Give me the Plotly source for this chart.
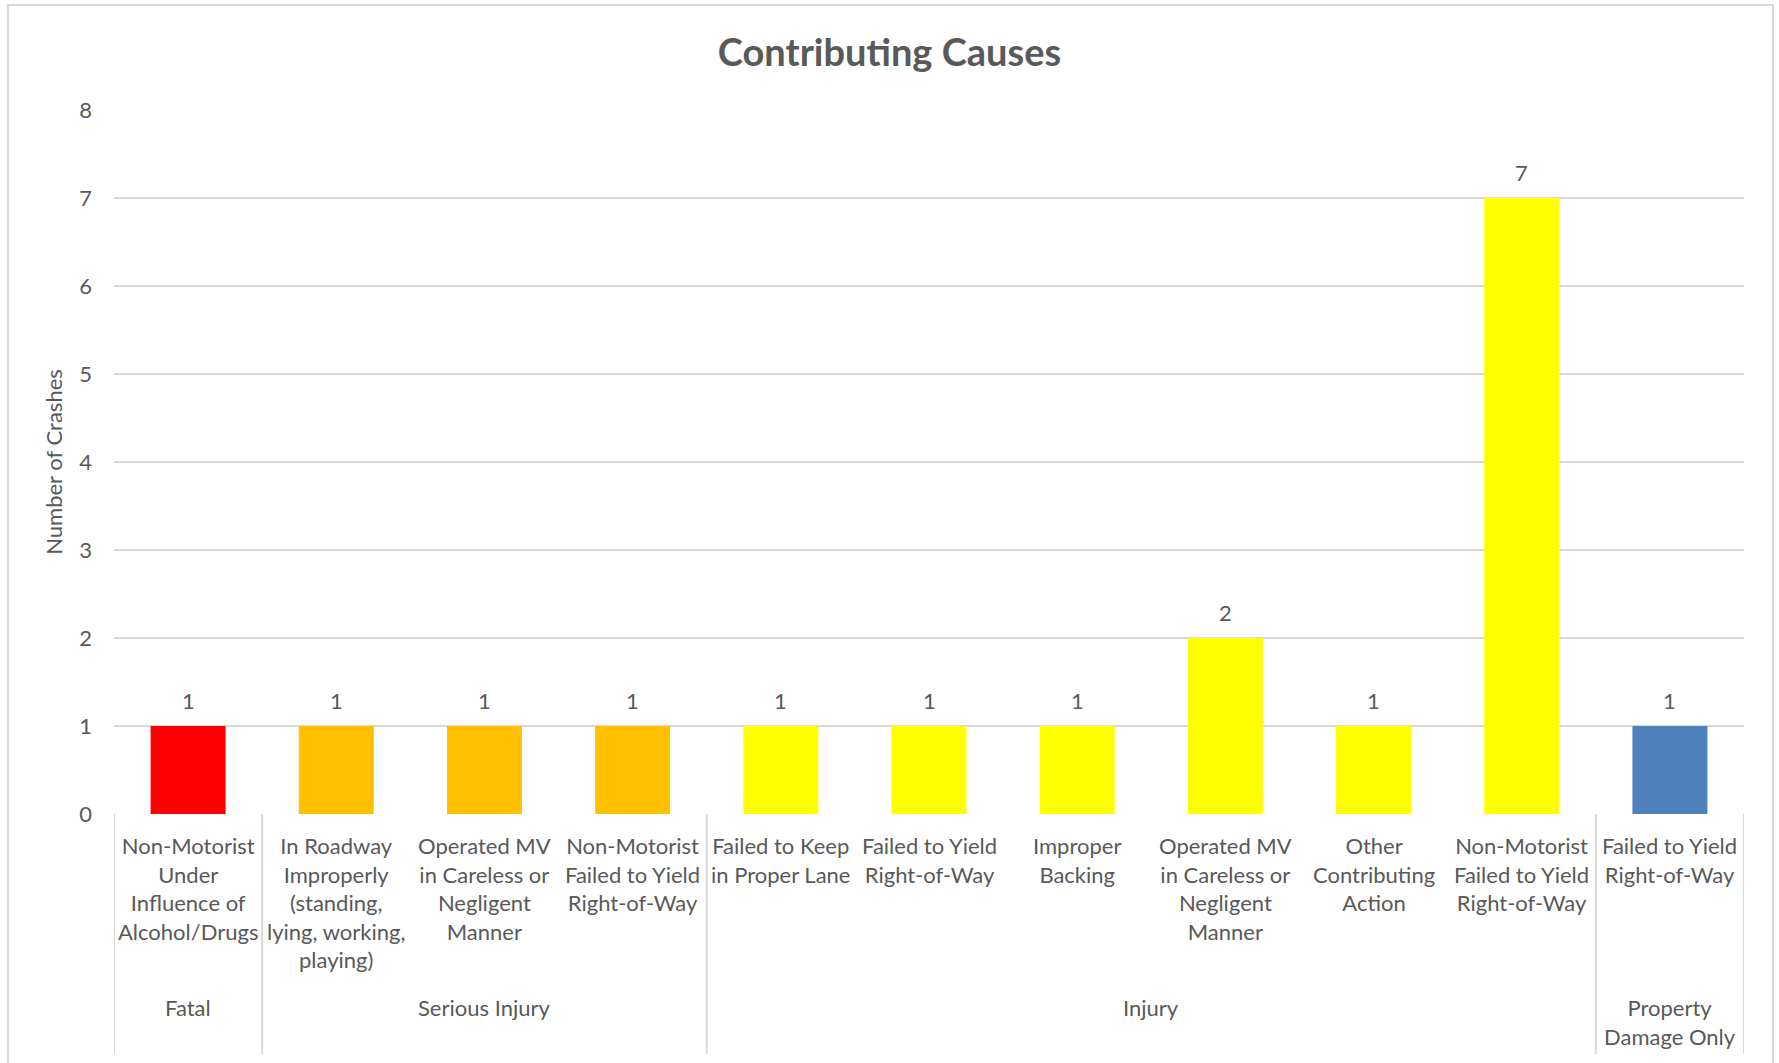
import plotly.graph_objects as go

# ---- data ----
groups = ["Fatal", "Serious Injury", "Serious Injury", "Serious Injury",
          "Injury", "Injury", "Injury", "Injury", "Injury", "Injury",
          "Property Damage Only"]
causes = [
    "Non-Motorist<br>Under<br>Influence of<br>Alcohol/Drugs",
    "In Roadway<br>Improperly<br>(standing,<br>lying, working,<br>playing)",
    "Operated MV<br>in Careless or<br>Negligent<br>Manner",
    "Non-Motorist<br>Failed to Yield<br>Right-of-Way",
    "Failed to Keep<br>in Proper Lane",
    "Failed to Yield<br>Right-of-Way",
    "Improper<br>Backing",
    "Operated MV<br>in Careless or<br>Negligent<br>Manner",
    "Other<br>Contributing<br>Action",
    "Non-Motorist<br>Failed to Yield<br>Right-of-Way",
    "Failed to Yield<br>Right-of-Way",
]
crashes = [1, 1, 1, 1, 1, 1, 1, 2, 1, 7, 1]
group_labels = ["Fatal", "Serious Injury", "Injury", "Property<br>Damage Only"]
group_names = ["Fatal", "Serious Injury", "Injury", "Property Damage Only"]
group_colors = {"Fatal": "#FF0000", "Serious Injury": "#FFC000",
                "Injury": "#FFFF00", "Property Damage Only": "#4F81BD"}
y_ticks = [0, 1, 2, 3, 4, 5, 6, 7, 8]

# ---- geometry (pixels) ----
W, H = 1779, 1063
L, R, T, B = 114, 1744, 110, 814
PW, PH = R - L, B - T

def py(pix):  # pixel y -> paper y
    return (B - pix) / PH

def px(pix):
    return (pix - L) / PW

FONT = "Lato"
TXT = "#595959"
GRID = "#D9D9D9"
FS = 22

xkeys = [f"{i}:{g}" for i, g in enumerate(groups)]
colors = [group_colors[g] for g in groups]

fig = go.Figure()
fig.add_trace(go.Bar(x=xkeys, y=crashes, marker=dict(color=colors, line=dict(width=0)),
                     showlegend=False, hoverinfo="y"))

annotations = []
# data labels
for k, v in zip(xkeys, crashes):
    annotations.append(dict(x=k, y=v, xref="x", yref="y", text=str(v), showarrow=False,
                            yshift=26, yanchor="middle",
                            font=dict(family=FONT, size=FS, color=TXT)))
# category labels
for k, c in zip(xkeys, causes):
    annotations.append(dict(x=k, y=py(830), xref="x", yref="paper", text=c, showarrow=False,
                            yanchor="top", xanchor="center", align="center",
                            font=dict(family=FONT, size=FS, color=TXT)))
# group labels and dividers
shapes = []
bounds = [-0.5]
for gname, glabel in zip(group_names, group_labels):
    members = [i for i, g in enumerate(groups) if g == gname]
    first, last = members[0], members[-1]
    center = (first + last) / 2
    annotations.append(dict(x=center, y=py(992), xref="x", yref="paper", text=glabel,
                            showarrow=False, yanchor="top", xanchor="center", align="center",
                            font=dict(family=FONT, size=FS, color=TXT)))
    bounds.append(last + 0.5)
for b in bounds:
    shapes.append(dict(type="line", xref="x", yref="paper", x0=b, x1=b,
                       y0=0, y1=py(1054), line=dict(color=GRID, width=2)))
# outer chart border
shapes.append(dict(type="rect", xref="paper", yref="paper",
                   x0=px(8), x1=px(1773), y0=py(1080), y1=py(5),
                   line=dict(color=GRID, width=2), fillcolor="rgba(0,0,0,0)", layer="below"))

fig.update_layout(
    width=W, height=H,
    margin=dict(l=L, r=W - R, t=T, b=H - B, pad=0),
    paper_bgcolor="white", plot_bgcolor="white",
    bargap=0.494,
    title=dict(text="<b>Contributing Causes</b>", x=0.5, xref="container", xanchor="center",
               y=1 - 53 / H, yref="container", yanchor="middle",
               font=dict(family=FONT, size=38, color=TXT)),
    xaxis=dict(range=[-0.5, 10.5], showticklabels=False, showgrid=False, zeroline=False,
               showline=False, ticks=""),
    yaxis=dict(range=[0, 8], tickvals=y_ticks, showgrid=True, gridcolor=GRID, gridwidth=2,
               zeroline=False, showline=False, ticks="", ticklabelstandoff=21,
               tickfont=dict(family=FONT, size=FS, color=TXT),
               title=dict(text="Number of Crashes", standoff=10,
                          font=dict(family=FONT, size=22, color=TXT))),
    annotations=annotations,
    shapes=shapes,
)
fig.write_html("out.html")
